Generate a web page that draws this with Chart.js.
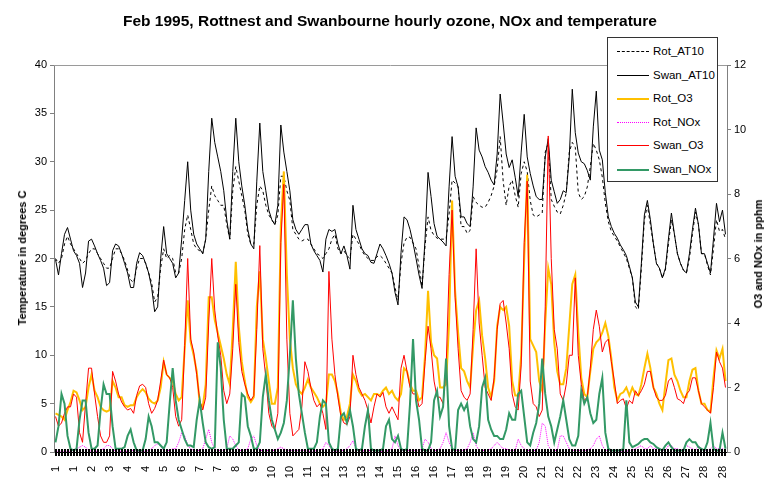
<!DOCTYPE html>
<html>
<head>
<meta charset="utf-8">
<script src="https://cdn.jsdelivr.net/npm/chart.js@4.4.1/dist/chart.umd.min.js"></script>
<style>
  html, body { margin: 0; padding: 0; background: #fff; }
  #wrap { position: relative; width: 780px; height: 479px; font-family: "Liberation Sans", Arial, sans-serif; color: #000; }
  #chart { position: absolute; left: 0; top: 0; }
  .title { position: absolute; left: 0; width: 780px; top: 12px; text-align: center; font-weight: bold; font-size: 15.5px; }
  .ytitle { position: absolute; font-weight: bold; font-size: 11px; white-space: nowrap; transform: translate(-50%, -50%) rotate(-90deg); }
  .legend { position: absolute; left: 607px; top: 37px; width: 109px; height: 143px; border: 1px solid #333; background: #fff; font-size: 11.5px; }
  .legend .row { position: absolute; left: 0; height: 14px; line-height: 14px; }
  .legend .sw { position: absolute; left: 9px; top: 7px; width: 32px; height: 0; }
  .legend .lab { position: absolute; left: 45px; top: 0; white-space: nowrap; }
</style>
</head>
<body>
<div id="wrap">
  <canvas id="chart" width="780" height="479"></canvas>
  <div class="title">Feb 1995, Rottnest and Swanbourne hourly ozone, NOx and temperature</div>
  <div class="ytitle" style="left:22px; top:258px;">Temperature in degrees C</div>
  <div class="ytitle" style="left:758px; top:254px;">O3 and NOx in pphm</div>
  <div class="legend" id="legend"></div>
</div>
<script>
// categories: one reading every 3 hours, labelled with the day of month
const days = [1, 2, 3, 4, 5, 6, 7, 8, 9, 10, 11, 12, 13, 14, 15, 16, 17, 18, 19, 20, 21, 22, 23, 24, 25, 26, 27, 28];
const hoursOfDay = [0, 3, 6, 9, 12, 15, 18, 21];
const labelEvery = 6; // a day label every 18 hours
const tempTicks = [0, 5, 10, 15, 20, 25, 30, 35, 40];
const pphmTicks = [0, 2, 4, 6, 8, 10, 12];

// temperature, degrees C
const rotAT10 = [
  20, 19.5, 20, 21.5, 22.3, 21.5, 21, 20.5,
  20, 19.5, 19.8, 20.5, 21, 21, 20.5, 20,
  19.5, 19, 19, 20, 21, 21, 20.5, 19.8,
  18.8, 17.8, 17.5, 19, 20, 20, 19.5, 18.5,
  17.5, 15.5, 16, 19, 21, 20, 20.3, 20,
  18.5, 18.5, 20, 23, 24.5, 23, 21.5, 21,
  20.8, 20.5, 22, 25, 27.5, 26.5, 26, 25.5,
  25.5, 23.5, 22, 27, 29.5, 28, 26.5, 25,
  22.5, 21.5, 21.5, 25.5, 27.5, 27, 25.5, 24.5,
  24, 23.5, 24.5, 28.5, 28.5, 27, 26, 23,
  22.5, 22, 21.8, 22, 22, 21.5, 21, 20.5,
  20.3, 20, 20.5, 21, 22, 22.5, 21, 20.5,
  20.8, 20.3, 20, 22.5, 22, 21.5, 20.8, 20.3,
  20, 19.8, 19.8, 20.2, 20.3, 20, 19.5, 19,
  18.5, 17, 15.7, 19.5, 21.6, 22.2, 22.2, 21.6,
  21, 19.2, 17.1, 21.3, 24.3, 22.9, 22.4, 22.1,
  22, 22, 22, 24.6, 28.1, 27.8, 27.4, 23.3,
  23.3, 22.6, 22.9, 26.4, 25.8, 25.5, 25.3, 25.3,
  25.8, 26.5, 27.5, 29.2, 32.6, 28, 25.5, 27.5,
  28.1, 26.5, 25.3, 28.8, 30, 29, 26, 24.5,
  24.3, 24.5, 24.7, 31, 31.9, 26.1, 25.4, 24.8,
  24.6, 25.5, 26.8, 31, 32, 31.5, 26.8, 26.1,
  26.4, 27.4, 29.5, 31.9, 31.2, 30.2, 28.4, 25.7,
  23.8, 22.8, 22.3, 21.8, 21.2, 20.6, 20, 19,
  18, 15, 14.7, 19, 24, 25.5, 23.5, 21.5,
  19.5, 19, 18, 18.8, 21.5, 24, 22.5, 20.5,
  19.5, 18.8, 18.5, 20, 22.5, 24.8, 23.5, 20.5,
  20.5, 19.3, 18.3, 21, 24, 22.8, 23, 22
];
const swanAT10 = [
  19.9, 18.3, 20.5, 22.5, 23.2, 22, 20.8, 20.3,
  19.5, 17, 18.5, 21.8, 22, 21.3, 20.5, 19.8,
  19, 17.2, 17.5, 20.8, 21.5, 21.3, 20.5, 19.5,
  18.5, 17, 17, 19.5, 20.6, 20.3, 19.5, 18.5,
  17, 14.5, 15, 20, 23.3, 20.5, 20, 19.5,
  18, 18.5, 22, 26, 30, 25, 22.5, 21.5,
  21, 20.5, 22, 29, 34.5, 32, 30.5, 29,
  27, 24, 22, 29, 34.5, 30, 27.5, 25.5,
  23, 21.5, 21, 28, 34, 29, 27, 25,
  24, 23.5, 25.5, 33.8, 31, 29, 27, 24,
  23, 22.5, 23, 23.5, 23.5, 21.5, 20.8, 20.3,
  19.8, 18.6, 22, 23, 22.8, 23, 21.5, 20.5,
  21.3, 20.3, 18.9, 25.5, 23, 22, 21, 20.5,
  20.3, 19.6, 19.5, 20.5, 21.5, 21, 20.3, 19.5,
  18.5, 16.5, 15.2, 20.6, 24.3, 24, 23, 21.6,
  20, 18.3, 16.9, 22, 28.9, 26.4, 23.6, 22.3,
  22, 21.7, 21.3, 27.4, 32.6, 28.5, 27.4, 24.3,
  24.3, 23.6, 23.3, 27.4, 33.5, 31.2, 30.5, 29.5,
  28.9, 28.1, 27.6, 30.8, 37, 34, 30.8, 29.4,
  30.2, 28.4, 26.4, 31, 34.9, 30.5, 28.8, 27.5,
  26.4, 26.1, 26.1, 30.5, 32.4, 28.1, 26.9, 25.7,
  26.1, 27, 26.8, 30.5, 37.5, 33, 30.9, 30,
  29.8, 29.1, 28.1, 33.6, 37.3, 31.2, 30.2, 26.8,
  24.3, 23.3, 22.6, 22.1, 21.4, 20.9, 20.3, 19.2,
  18, 15.5, 15, 19.5, 24.5, 26, 24, 21.5,
  19.5, 19, 18, 19, 22, 24.7, 22.5, 20.5,
  19.5, 18.8, 18.5, 20.5, 23, 25.2, 23.5, 20.5,
  20.5, 19.5, 18.5, 22, 25.7, 23.8, 25, 22.5
];

// ozone and NOx, pphm
const rotO3 = [
  1.2, 1.15, 1.1, 1.0, 1.3, 1.55, 1.9, 1.85,
  1.6, 1.3, 1.4, 2.0, 2.4, 1.9, 1.7, 1.4,
  1.3, 1.25, 1.3, 2.2, 2.0, 1.7, 1.7, 1.45,
  1.4, 1.45, 1.45, 1.7, 1.85, 1.95, 1.85, 1.65,
  1.55, 1.5, 1.6, 2.0, 2.8, 2.4, 2.3, 2.2,
  1.8, 1.6, 1.7, 3.2, 4.7, 3.4, 3.0, 2.5,
  1.5, 1.4, 2.1, 4.8, 4.8, 4.1, 3.7, 3.3,
  2.9, 2.4, 2.1, 3.8, 5.9, 3.9, 2.8, 2.2,
  1.7, 1.55, 1.7, 4.5, 5.6, 3.5, 2.9, 2.2,
  1.5, 1.5, 2.0, 7.0, 8.7, 5.5, 3.5, 2.6,
  2.1, 1.9, 1.8, 2.0, 2.25, 2.0, 1.85, 1.7,
  1.5, 1.4, 1.5, 2.4, 2.4, 2.2, 1.8, 1.2,
  1.0, 1.1, 1.5, 2.4, 2.2, 1.9, 1.75, 1.8,
  1.7, 1.6, 1.8, 1.8, 1.75, 1.9, 2.0, 1.8,
  1.9, 1.7, 1.6, 1.8, 2.6, 2.5, 2.1, 1.9,
  1.9, 1.6, 1.7, 3.0, 5.0, 3.4, 3.0, 2.9,
  2.0, 2.0, 2.1, 4.0, 7.8, 5.0, 3.7, 2.6,
  2.5, 2.2, 2.0, 3.3, 4.4, 4.7, 3.6, 2.9,
  2.0, 1.7, 2.2, 3.9, 4.5, 4.4, 4.5, 3.9,
  2.2, 1.75, 1.75, 3.0, 6.0, 8.6, 3.5, 3.3,
  3.1, 2.2, 1.9, 4.0, 5.7, 5.2, 3.4, 2.5,
  2.1, 2.1, 2.6, 3.9, 5.2, 5.5, 3.7, 2.3,
  1.8, 1.7, 2.5, 3.2, 3.4, 3.5, 3.7, 4.0,
  3.6, 2.9, 2.0, 1.6, 1.8, 1.85, 2.0, 1.75,
  2.0, 1.8, 1.75, 2.1, 2.6, 3.05, 2.6, 2.0,
  1.8, 1.5, 1.3, 2.1, 2.85, 2.9, 2.4, 2.2,
  1.9, 1.7, 1.7, 2.2, 2.55, 2.6, 1.9, 1.5,
  1.5, 1.3, 1.25, 2.3, 3.15, 2.9, 3.2, 2.2
];
const rotNOx = [
  0.02, 0.02, 0.02, 0.02, 0.02, 0.02, 0.05, 0.1,
  0.15, 0.2, 0.15, 0.05, 0.02, 0.02, 0.02, 0.05,
  0.1, 0.2, 0.2, 0.1, 0.02, 0.02, 0.02, 0.02,
  0.02, 0.05, 0.05, 0.02, 0.02, 0.02, 0.02, 0.05,
  0.1, 0.2, 0.25, 0.2, 0.05, 0.05, 0.05, 0.1,
  0.1, 0.3, 0.6, 0.5, 0.2, 0.1, 0.05, 0.05,
  0.05, 0.1, 0.4, 0.7, 0.3, 0.1, 0.05, 0.05,
  0.05, 0.1, 0.5, 0.4, 0.2, 0.05, 0.05, 0.05,
  0.1, 0.4, 0.5, 0.2, 0.05, 0.05, 0.05, 0.05,
  0.05, 0.05, 0.1, 0.15, 0.1, 0.05, 0.05, 0.05,
  0.05, 0.05, 0.05, 0.05, 0.02, 0.02, 0.02, 0.05,
  0.05, 0.1, 0.3, 0.2, 0.05, 0.02, 0.02, 0.05,
  0.05, 0.1, 0.2, 0.35, 0.1, 0.02, 0.02, 0.05,
  0.05, 0.05, 0.05, 0.05, 0.02, 0.02, 0.02, 0.05,
  0.1, 0.5, 0.2, 0.05, 0.05, 0.05, 0.05, 0.05,
  0.05, 0.05, 0.1, 0.4, 0.3, 0.1, 0.05, 0.05,
  0.1, 0.3, 0.6, 0.3, 0.1, 0.05, 0.05, 0.05,
  0.05, 0.1, 0.3, 0.6, 0.2, 0.05, 0.05, 0.05,
  0.05, 0.1, 0.2, 0.3, 0.2, 0.1, 0.1, 0.05,
  0.05, 0.05, 0.4, 0.2, 0.1, 0.05, 0.05, 0.05,
  0.05, 0.3, 0.9, 0.8, 0.2, 0.05, 0.05, 0.05,
  0.5, 0.5, 0.3, 0.1, 0.05, 0.05, 0.05, 0.05,
  0.05, 0.05, 0.1, 0.2, 0.4, 0.5, 0.2, 0.05,
  0.05, 0.05, 0.05, 0.05, 0.02, 0.02, 0.02, 0.05,
  0.05, 0.1, 0.15, 0.2, 0.1, 0.1, 0.2, 0.1,
  0.1, 0.1, 0.05, 0.05, 0.2, 0.2, 0.1, 0.1,
  0.05, 0.1, 0.2, 0.15, 0.1, 0.05, 0.2, 0.1,
  0.05, 0.05, 0.1, 0.2, 0.1, 0.1, 0.1, 0.05
];
const swanO3 = [
  1.1, 0.8, 0.9, 1.2, 1.4, 1.4, 1.8, 1.7,
  0.6, 0.3, 1.5, 2.6, 2.6, 1.8, 1.1, 0.5,
  0.3, 0.3, 0.5, 2.5, 2.2, 1.8, 1.55, 1.4,
  1.3, 1.35, 1.2, 1.75, 2.05, 2.1, 2.0, 1.5,
  1.2, 1.35, 1.6, 2.2, 2.85, 2.4, 2.3, 2.0,
  1.1, 0.8, 1.0, 3.3, 6.0, 3.5, 3.1, 2.4,
  1.6, 1.3, 1.7, 4.0, 6.0, 4.4, 3.6, 3.0,
  1.9, 1.5, 1.8, 3.2, 5.2, 3.4, 2.5, 2.1,
  1.8, 1.6, 1.75, 3.8, 6.4, 3.2, 2.3, 1.2,
  0.8, 0.7, 1.2, 6.5, 8.3, 3.5, 1.2, 0.5,
  0.6, 0.7, 1.4, 2.8, 2.5, 2.0, 1.6, 1.4,
  1.5, 1.2, 0.7, 5.6, 3.5, 2.4, 1.7, 1.1,
  0.9, 0.85, 1.1, 3.0, 2.4, 2.0, 1.8, 1.6,
  1.3, 0.9, 1.4, 1.8, 1.7, 1.85, 1.4, 1.2,
  1.4, 1.2, 1.0, 2.6, 3.0, 2.5, 2.0, 1.8,
  1.8, 1.4, 1.5, 2.8, 3.9, 3.2, 2.2, 1.7,
  1.7, 1.5, 2.6, 5.5, 7.5, 4.8, 3.2, 1.9,
  1.7, 1.6, 1.8, 3.8, 6.3, 4.0, 3.0, 2.0,
  1.8, 1.6, 2.3, 3.8, 4.6, 4.7, 4.0, 3.2,
  1.8, 1.4, 1.3, 2.7, 6.5, 8.4, 2.2, 1.5,
  1.4, 1.1, 1.3, 4.5, 9.8, 6.0, 3.8, 3.2,
  1.8, 1.6, 2.1, 3.0, 3.0, 5.4, 3.0, 2.1,
  1.6, 1.7, 2.6, 3.8, 4.4, 3.9, 3.1, 3.4,
  3.5, 2.8, 2.2, 1.5, 1.6, 1.65, 1.35, 1.6,
  1.5, 1.9, 1.75, 1.9, 2.1, 2.5, 2.5, 2.0,
  1.7, 1.6, 1.6, 1.75, 2.2, 2.3, 2.0, 1.65,
  1.6, 1.5, 1.8, 1.9, 2.3, 2.3, 1.9, 1.5,
  1.4, 1.3, 1.2, 2.0, 3.1, 2.8, 2.6, 2.0
];
const swanNOx = [
  0.3, 0.8, 1.8, 1.5, 0.5, 0.1, 0.05, 0.1,
  1.0, 1.6, 1.6, 0.6, 0.1, 0.1, 0.2, 1.3,
  2.1, 1.8, 1.8, 0.8, 0.1, 0.1, 0.1, 0.15,
  0.5, 0.7, 0.3, 0.05, 0.05, 0.05, 0.4, 1.1,
  0.8, 0.3, 0.3, 0.2, 0.1, 0.3, 1.5, 2.6,
  1.6, 1.0, 0.7, 0.4, 0.2, 0.2, 0.15, 1.0,
  1.6, 0.9, 0.3, 0.15, 0.1, 0.15, 3.4, 2.6,
  1.0, 0.1, 0.1, 0.1, 0.2, 0.3, 1.8, 1.7,
  0.8, 0.5, 0.1, 0.1, 0.3, 1.7, 2.4, 1.6,
  1.0, 0.7, 0.4, 0.6, 0.9, 1.6, 3.0, 4.7,
  2.9, 1.8, 1.2, 0.6, 0.1, 0.1, 0.1, 0.3,
  1.1, 1.6, 1.5, 0.3, 0.1, 0.05, 0.1, 1.1,
  1.2, 0.9, 1.3, 0.8, 0.1, 0.05, 0.1, 0.8,
  1.3, 0.1, 0.05, 0.05, 0.05, 0.1, 0.8, 1.0,
  0.4, 0.3, 0.5, 0.1, 0.05, 0.1, 1.5, 3.5,
  1.6, 1.0, 0.1, 0.05, 0.05, 0.3, 1.6, 1.9,
  1.1, 1.4, 2.9, 0.8, 0.1, 0.05, 1.3, 1.5,
  1.3, 1.5, 0.8, 0.4, 0.3, 0.8, 2.0, 2.3,
  1.0, 0.7, 0.5, 0.5, 0.4, 0.4, 0.7, 1.2,
  1.0, 1.0, 1.8, 1.9, 1.1, 0.3, 0.2, 0.6,
  0.9, 1.5, 2.9, 1.8, 1.1, 0.8, 0.3, 0.7,
  1.1, 1.6, 1.0, 0.4, 0.2, 0.2, 0.5, 1.9,
  1.5, 1.7, 1.2, 0.9, 1.0, 1.8, 2.3, 0.6,
  0.1, 0.05, 0.05, 0.05, 0.05, 0.1, 1.6, 0.3,
  0.15, 0.2, 0.25, 0.35, 0.4, 0.4, 0.3, 0.25,
  0.15, 0.1, 0.05, 0.2, 0.3, 0.15, 0.05, 0.05,
  0.05, 0.05, 0.3, 0.4, 0.3, 0.3, 0.15, 0.1,
  0.05, 0.3, 0.9, 0.1, 0.05, 0.05, 0.6, 0.1
];

const labels = days.flatMap(d => hoursOfDay.map(() => d));

const series = [
  { label: 'Rot_AT10', data: rotAT10, axis: 'yT', color: '#000000', width: 1, dash: [3, 3], css: '1px dashed #000' },
  { label: 'Swan_AT10', data: swanAT10, axis: 'yT', color: '#000000', width: 1, dash: [], css: '1px solid #000' },
  { label: 'Rot_O3', data: rotO3, axis: 'yP', color: '#FFC000', width: 2, dash: [], css: '2px solid #FFC000' },
  { label: 'Rot_NOx', data: rotNOx, axis: 'yP', color: '#FF00FF', width: 1, dash: [1, 1], css: '1px dotted #FF00FF' },
  { label: 'Swan_O3', data: swanO3, axis: 'yP', color: '#FF0000', width: 1, dash: [], css: '1px solid #FF0000' },
  { label: 'Swan_NOx', data: swanNOx, axis: 'yP', color: '#339966', width: 2, dash: [], css: '2px solid #339966' }
];

// legend drawn as html so it can sit over the plot corner
const legendEl = document.getElementById('legend');
series.forEach((s, i) => {
  const row = document.createElement('div');
  row.className = 'row';
  row.style.top = (6 + i * 23.5) + 'px';
  row.innerHTML = `<span class="sw" style="border-top:${s.css}"></span><span class="lab">${s.label}</span>`;
  legendEl.appendChild(row);
});

// area border + hourly tick band across the x axis
const frame = {
  id: 'frame',
  beforeDatasetsDraw(chart) {
    const { ctx, chartArea: a } = chart;
    ctx.save();
    ctx.strokeStyle = '#9a9a9a';
    ctx.lineWidth = 1;
    ctx.beginPath();
    ctx.moveTo(a.left, a.top + 0.5);
    ctx.lineTo(a.right, a.top + 0.5);
    ctx.stroke();
    ctx.restore();
  },
  afterDatasetsDraw(chart) {
    const { ctx, chartArea: a, scales } = chart;
    ctx.save();
    ctx.fillStyle = '#000';
    for (let i = 0; i < labels.length; i++) {
      const px = Math.round(scales.x.getPixelForValue(i));
      ctx.fillRect(px - 1, a.bottom - 3, 2, 7);
    }
    ctx.restore();
  }
};

Chart.defaults.font.family = '"Liberation Sans", Arial, sans-serif';
Chart.defaults.font.size = 11;
Chart.defaults.color = '#000';

new Chart(document.getElementById('chart'), {
  type: 'line',
  data: {
    labels: labels,
    datasets: series.map((s, i) => ({
      label: s.label,
      data: s.data,
      yAxisID: s.axis,
      borderColor: s.color,
      backgroundColor: s.color,
      borderWidth: s.width,
      borderDash: s.dash,
      pointRadius: 0,
      tension: 0,
      fill: false,
      order: series.length - i
    }))
  },
  options: {
    responsive: false,
    devicePixelRatio: 1,
    animation: false,
    layout: { padding: { top: 65, left: 0, right: 0, bottom: 0 } },
    plugins: { legend: { display: false }, tooltip: { enabled: false }, title: { display: false } },
    scales: {
      x: {
        offset: true,
        grid: { display: false },
        border: { display: true, color: '#000' },
        ticks: {
          autoSkip: false, maxRotation: 90, minRotation: 90, padding: 6,
          font: { size: 11 },
          callback: (v, i) => (i % labelEvery === 0 ? String(labels[i]) : '')
        },
        afterFit: s => { s.height = 27; }
      },
      yT: {
        position: 'left', min: 0, max: 40,
        afterBuildTicks: s => { s.ticks = tempTicks.map(v => ({ value: v })); },
        grid: { drawOnChartArea: false, tickLength: 4, color: '#808080' },
        border: { color: '#808080' },
        ticks: { padding: 3, font: { size: 11 } },
        afterFit: s => { s.width = 54; }
      },
      yP: {
        position: 'right', min: 0, max: 12,
        afterBuildTicks: s => { s.ticks = pphmTicks.map(v => ({ value: v })); },
        grid: { drawOnChartArea: false, tickLength: 4, color: '#808080' },
        border: { color: '#808080' },
        ticks: { padding: 3, font: { size: 11 } },
        afterFit: s => { s.width = 53; }
      }
    }
  },
  plugins: [frame]
});
</script>
</body>
</html>
